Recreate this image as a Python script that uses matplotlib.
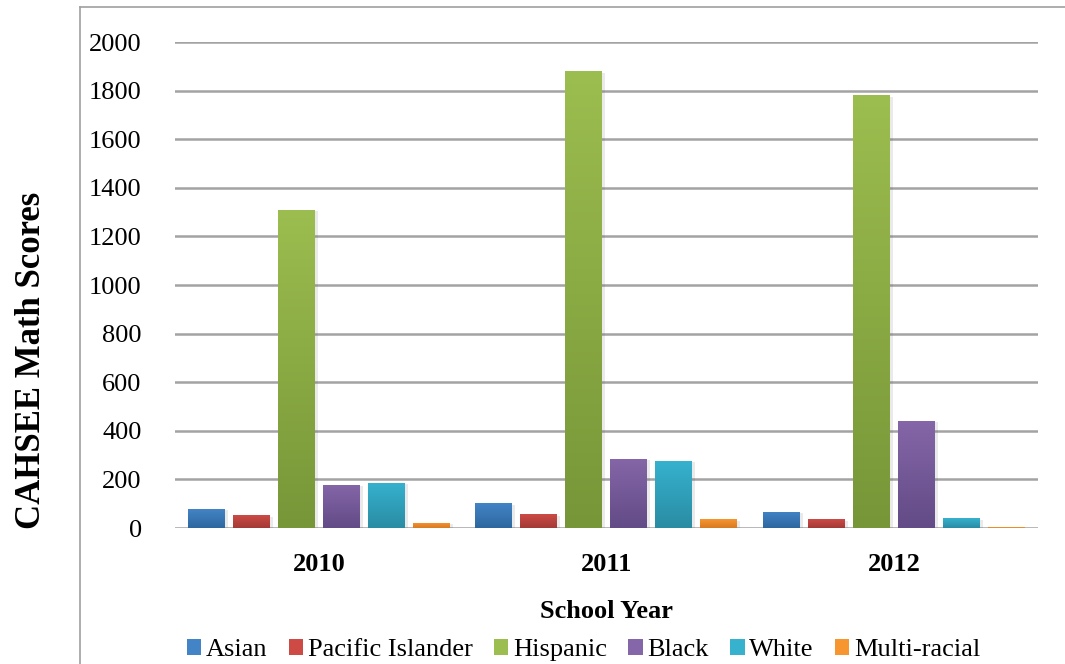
import numpy as np
import matplotlib
matplotlib.use("Agg")
import matplotlib.pyplot as plt
from matplotlib.colors import LinearSegmentedColormap
from matplotlib.patches import Patch
from matplotlib.lines import Line2D
import matplotlib.patheffects as pe

plt.rcParams['font.family'] = ['Liberation Serif', 'DejaVu Serif']

years = ['2010', '2011', '2012']
groups = ['Asian', 'Pacific Islander', 'Hispanic', 'Black', 'White', 'Multi-racial']
asian = [78, 102, 66]
pacific = [53, 57, 36]
hispanic = [1310, 1880, 1780]
black = [178, 284, 440]
white = [186, 276, 40]
multi = [21, 36, 3]
series = [asian, pacific, hispanic, black, white, multi]

# (top colour, bottom colour) for each series
shades = [('#4384c6', '#2d679f'),
          ('#cd4a45', '#a23a36'),
          ('#9cbd4f', '#779638'),
          ('#8566a8', '#624b86'),
          ('#36b2cf', '#2a8ca3'),
          ('#f7952f', '#d97a22')]

fig = plt.figure(figsize=(10.65, 6.64), dpi=100)
ax = fig.add_axes([0.1643, 0.2048, 0.8103, 0.7319])

x = np.arange(len(years))
step = 0.1564
width = 0.1286
grad = np.linspace(0, 1, 256).reshape(-1, 1)

for i, (vals, (top, bot)) in enumerate(zip(series, shades)):
    pos = x + (i - 2.5) * step
    bars = ax.bar(pos, vals, width, color=top, zorder=3,
                  path_effects=[pe.SimplePatchShadow(offset=(2, -1), alpha=0.12,
                                                     shadow_rgbFace='#555555'),
                                pe.Normal()])
    cmap = LinearSegmentedColormap.from_list(groups[i], [bot, top])
    for b in bars:
        x0, w, h = b.get_x(), b.get_width(), b.get_height()
        im = ax.imshow(grad, extent=[x0, x0 + w, 0, h], origin='lower',
                       cmap=cmap, aspect='auto', zorder=3.5)
        im.set_clip_path(b)

ax.set_xlim(-0.5, 2.5)
ax.set_ylim(0, 2000)
ax.set_yticks(range(0, 2001, 200))
ax.yaxis.grid(True, color='#a3a3a3', linewidth=1.8, zorder=1)
ax.set_axisbelow(True)
for s in ax.spines.values():
    s.set_visible(False)
ax.tick_params(axis='both', length=0)
ax.tick_params(axis='y', labelsize=19, pad=24)
ax.set_xticks(x)
ax.set_xticklabels(years, fontsize=19, fontweight='bold')
ax.tick_params(axis='x', pad=18)

ax.set_xlabel('School Year', fontsize=19, fontweight='bold', labelpad=17)
fig.text(0.030, 0.458, 'CAHSEE Math Scores', rotation=90, fontsize=25,
         fontweight='bold', ha='center', va='center')

handles = [Patch(facecolor=t, edgecolor='none') for t, _ in shades]
fig.legend(handles, groups, loc='center', bbox_to_anchor=(0.548, 0.021),
           ncol=6, frameon=False, fontsize=19, handlelength=0.55,
           handleheight=0.6, handletextpad=0.18, columnspacing=0.8,
           borderaxespad=0)

# thin outer frame lines
fig.add_artist(Line2D([0.0751, 1.0], [0.9895, 0.9895], color='#a0a0a0', lw=1.2))
fig.add_artist(Line2D([0.0751, 0.0751], [0.0, 0.9895], color='#a0a0a0', lw=1.2))

fig.savefig('out.png', dpi=100)
